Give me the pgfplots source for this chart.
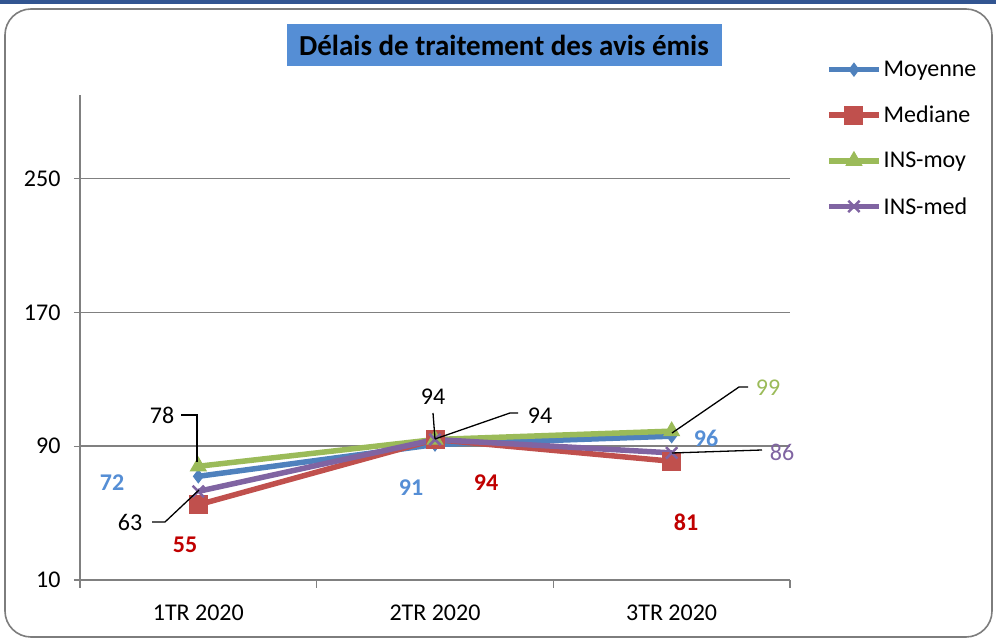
\documentclass[border=0pt]{standalone}
\usepackage{fontspec}
\setmainfont{Carlito}
\usepackage{pgfplots}
\pgfplotsset{compat=1.18}
\definecolor{cmoy}{HTML}{4F81BD}
\definecolor{cmed}{HTML}{C0504D}
\definecolor{cinsmoy}{HTML}{9BBB59}
\definecolor{cinsmed}{HTML}{8064A2}
\definecolor{lblblue}{HTML}{558ED5}
\definecolor{lblred}{HTML}{C00000}
\definecolor{titlebg}{HTML}{558ED5}
\definecolor{framegray}{RGB}{125,125,125}
\definecolor{topband}{RGB}{50,85,145}
\newcommand{\lf}{\fontsize{24}{28}\selectfont}

\begin{document}
\begin{tikzpicture}
\begin{axis}[
  name=ax,
  scale only axis, width=710pt, height=485pt,
  xmin=-0.5, xmax=2.5, ymin=10, ymax=300,
  axis x line*=bottom, axis y line*=left,
  axis line style={draw=gray, line width=1.6pt},
  xtick={0,1,2},
  xticklabels={1TR 2020, 2TR 2020, 3TR 2020},
  minor xtick={-0.5,0.5,1.5,2.5},
  major x tick style={draw=none},
  minor x tick style={draw=gray, line width=1.2pt},
  ytick={10,90,170,250},
  major y tick style={draw=gray, line width=1.2pt},
  tick align=outside,
  major tick length=6pt, minor tick length=8pt,
  ymajorgrids, grid style={draw=gray, line width=1.5pt},
  ticklabel style={font=\lf},
  xticklabel style={yshift=-15pt},
  yticklabel style={xshift=-10pt},
  /pgf/number format/assume math mode=true,
  legend style={at={(1.0507,1.0742)}, anchor=north west, draw=none, fill=none,
    font=\lf, row sep=24pt, inner sep=0pt,
    cells={anchor=west}},
  legend image code/.code={
    \draw[mark repeat=2, mark phase=2, #1] plot coordinates {(0pt,0pt) (25pt,0pt) (50pt,0pt)};},
  every axis plot/.append style={line width=5.5pt},
]
\addplot[cmoy, mark=diamond*, mark size=6.5pt, mark options={line width=1pt}]
  coordinates {(0,72) (1,91) (2,96)};
\addplot[cmed, mark=square*, mark size=9pt, mark options={line width=1pt}]
  coordinates {(0,55) (1,94) (2,81)};
\addplot[cinsmoy, mark=triangle*, mark size=9pt, mark options={line width=1pt}]
  coordinates {(0,78) (1,94) (2,99)};
\addplot[cinsmed, mark=x, mark size=8pt, mark options={line width=2.5pt}]
  coordinates {(0,63) (1,94) (2,86)};
\legend{Moyenne, Mediane, INS-moy, INS-med}
\coordinate (P0) at (rel axis cs:0,0);
\end{axis}

% frame, title and data labels, in picture (pixel) coordinates
\begin{scope}[shift={(P0)}, shift={(-80pt,580pt)}, x=1pt, y=-1pt, font=\lf]
\pgfresetboundingbox
\useasboundingbox (0,0) rectangle (996,639);
\fill[topband] (0,0) rectangle (996,4);
\draw[framegray, line width=1.6pt, rounded corners=26pt] (5,9) rectangle (992,637);
\node[fill=titlebg, minimum width=435pt, minimum height=42pt, inner sep=0pt,
      font=\fontsize{29}{34}\selectfont\bfseries] at (504,45) {Délais de traitement des avis émis};
% leader lines
\draw[black, line width=1.3pt] (181,415) -- (197,415) -- (197,462);
\draw[black, line width=1.3pt] (152,522) -- (165,522) -- (199,490);
\draw[black, line width=1.3pt] (433,413) -- (435,439);
\draw[black, line width=1.3pt] (518,413) -- (510,413) -- (435,439);
\draw[black, line width=1.3pt] (748,387) -- (739,387) -- (672,433);
\draw[black, line width=1.3pt] (762,450) -- (672,453);
% labels
\node at (162,415) {78};
\node[lblblue, font=\lf\bfseries] at (112,483) {72};
\node at (130,522) {63};
\node[lblred, font=\lf\bfseries] at (185,545) {55};
\node at (433,397) {94};
\node at (540,416) {94};
\node[lblblue, font=\lf\bfseries] at (411,488) {91};
\node[lblred, font=\lf\bfseries] at (486,483) {94};
\node[cinsmoy] at (768,388) {99};
\node[lblblue, font=\lf\bfseries] at (706,438) {96};
\node[cinsmed] at (782,452) {86};
\node[lblred, font=\lf\bfseries] at (686,522) {81};
\end{scope}
\end{tikzpicture}
\end{document}
